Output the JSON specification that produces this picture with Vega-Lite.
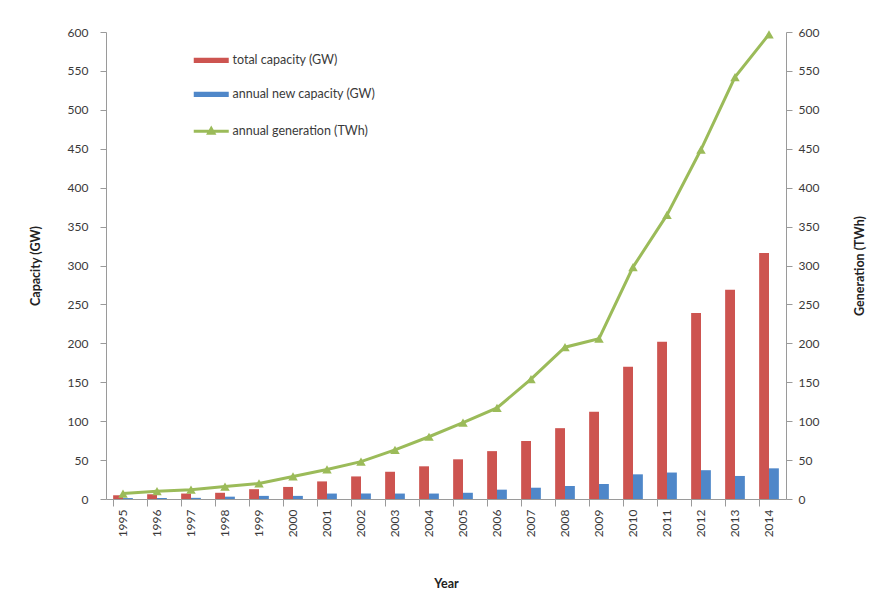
{
  "$schema": "https://vega.github.io/schema/vega-lite/v6.json",
  "width": 680,
  "height": 467,
  "autosize": "none",
  "padding": {"left": 106, "top": 32, "right": 87, "bottom": 100},
  "background": "white",
  "config": {
    "font": "Lato",
    "view": {"stroke": null},
    "axis": {"labelFont": "Lato", "titleFont": "Lato", "labelColor": "#3a3a3a", "titleColor": "#222", "labelFontSize": 12, "titleFontSize": 12.5, "titleFontWeight": "bold", "domainColor": "#9a9a9a", "tickColor": "#9a9a9a", "grid": false}
  },
  "datasets": {
    "bars": [
      {"year": "1995", "series": "total capacity (GW)", "value": 4.8},
      {"year": "1996", "series": "total capacity (GW)", "value": 6.1},
      {"year": "1997", "series": "total capacity (GW)", "value": 7.0},
      {"year": "1998", "series": "total capacity (GW)", "value": 8.0},
      {"year": "1999", "series": "total capacity (GW)", "value": 12.6},
      {"year": "2000", "series": "total capacity (GW)", "value": 15.5},
      {"year": "2001", "series": "total capacity (GW)", "value": 22.6},
      {"year": "2002", "series": "total capacity (GW)", "value": 29},
      {"year": "2003", "series": "total capacity (GW)", "value": 35},
      {"year": "2004", "series": "total capacity (GW)", "value": 42},
      {"year": "2005", "series": "total capacity (GW)", "value": 51},
      {"year": "2006", "series": "total capacity (GW)", "value": 61.5},
      {"year": "2007", "series": "total capacity (GW)", "value": 74.5},
      {"year": "2008", "series": "total capacity (GW)", "value": 91},
      {"year": "2009", "series": "total capacity (GW)", "value": 112},
      {"year": "2010", "series": "total capacity (GW)", "value": 170},
      {"year": "2011", "series": "total capacity (GW)", "value": 202},
      {"year": "2012", "series": "total capacity (GW)", "value": 239},
      {"year": "2013", "series": "total capacity (GW)", "value": 269},
      {"year": "2014", "series": "total capacity (GW)", "value": 316},
      {"year": "1995", "series": "annual new capacity (GW)", "value": 1.2},
      {"year": "1996", "series": "annual new capacity (GW)", "value": 1.3},
      {"year": "1997", "series": "annual new capacity (GW)", "value": 1.5},
      {"year": "1998", "series": "annual new capacity (GW)", "value": 3},
      {"year": "1999", "series": "annual new capacity (GW)", "value": 4},
      {"year": "2000", "series": "annual new capacity (GW)", "value": 4},
      {"year": "2001", "series": "annual new capacity (GW)", "value": 7},
      {"year": "2002", "series": "annual new capacity (GW)", "value": 7},
      {"year": "2003", "series": "annual new capacity (GW)", "value": 7},
      {"year": "2004", "series": "annual new capacity (GW)", "value": 7},
      {"year": "2005", "series": "annual new capacity (GW)", "value": 8},
      {"year": "2006", "series": "annual new capacity (GW)", "value": 12},
      {"year": "2007", "series": "annual new capacity (GW)", "value": 14.5},
      {"year": "2008", "series": "annual new capacity (GW)", "value": 16.7},
      {"year": "2009", "series": "annual new capacity (GW)", "value": 19.3},
      {"year": "2010", "series": "annual new capacity (GW)", "value": 31.7},
      {"year": "2011", "series": "annual new capacity (GW)", "value": 34},
      {"year": "2012", "series": "annual new capacity (GW)", "value": 37},
      {"year": "2013", "series": "annual new capacity (GW)", "value": 29.6},
      {"year": "2014", "series": "annual new capacity (GW)", "value": 39.4}
    ],
    "gen": [
      {"year": "1995", "series": "annual generation (TWh)", "twh": 7},
      {"year": "1996", "series": "annual generation (TWh)", "twh": 10},
      {"year": "1997", "series": "annual generation (TWh)", "twh": 12},
      {"year": "1998", "series": "annual generation (TWh)", "twh": 16},
      {"year": "1999", "series": "annual generation (TWh)", "twh": 20},
      {"year": "2000", "series": "annual generation (TWh)", "twh": 29},
      {"year": "2001", "series": "annual generation (TWh)", "twh": 38},
      {"year": "2002", "series": "annual generation (TWh)", "twh": 48},
      {"year": "2003", "series": "annual generation (TWh)", "twh": 63},
      {"year": "2004", "series": "annual generation (TWh)", "twh": 80},
      {"year": "2005", "series": "annual generation (TWh)", "twh": 98},
      {"year": "2006", "series": "annual generation (TWh)", "twh": 117},
      {"year": "2007", "series": "annual generation (TWh)", "twh": 154},
      {"year": "2008", "series": "annual generation (TWh)", "twh": 195},
      {"year": "2009", "series": "annual generation (TWh)", "twh": 206},
      {"year": "2010", "series": "annual generation (TWh)", "twh": 298},
      {"year": "2011", "series": "annual generation (TWh)", "twh": 365},
      {"year": "2012", "series": "annual generation (TWh)", "twh": 449},
      {"year": "2013", "series": "annual generation (TWh)", "twh": 542},
      {"year": "2014", "series": "annual generation (TWh)", "twh": 597}
    ]
  },
  "layer": [
    {
      "data": {"name": "bars"},
      "mark": {"type": "bar"},
      "encoding": {
        "x": {
          "field": "year", "type": "nominal",
          "scale": {"paddingInner": 0.42, "paddingOuter": 0.21},
          "axis": {"title": "Year", "labelAngle": -90, "labelAlign": "right", "labelBaseline": "middle", "bandPosition": 0, "tickSize": 7, "labelPadding": 3, "titlePadding": 41, "ticks": true}
        },
        "xOffset": {"field": "series", "type": "nominal", "sort": ["total capacity (GW)", "annual new capacity (GW)"], "scale": {"paddingInner": 0, "paddingOuter": 0}},
        "y": {
          "field": "value", "type": "quantitative",
          "scale": {"domain": [0, 600], "nice": false},
          "axis": {"title": "Capacity (GW)", "values": [0,50,100,150,200,250,300,350,400,450,500,550,600], "tickSize": 6, "labelPadding": 12, "titlePadding": 25}
        },
        "color": {
          "field": "series", "type": "nominal",
          "scale": {"domain": ["total capacity (GW)", "annual new capacity (GW)", "annual generation (TWh)"], "range": ["#cd5450", "#4f87c9", "#9bbb59"]},
          "legend": {
            "title": null, "orient": "none", "legendX": 99, "legendY": 22,
            "labelFont": "Lato", "labelFontSize": 12.5, "labelColor": "#3a3a3a",
            "rowPadding": 21, "symbolSize": 1225, "labelOffset": 15, "symbolStrokeWidth": 0,
            "encode": {
              "symbols": {"update": {
                "shape": {"signal": "datum.value === 'annual generation (TWh)' ? 'M-1,0H1M-0.15,0.12L0,-0.15L0.15,0.12Z' : 'M-1,-0.15H1V0.15H-1Z'"},
                "strokeWidth": {"signal": "datum.value === 'annual generation (TWh)' ? 3 : 0"}
              }}
            }
          }
        }
      }
    },
    {
      "data": {"name": "gen"},
      "mark": {"type": "line", "strokeWidth": 3, "point": {"shape": "triangle-up", "size": 90, "filled": true}},
      "encoding": {
        "x": {"field": "year", "type": "nominal"},
        "y": {
          "field": "twh", "type": "quantitative",
          "scale": {"domain": [0, 600], "nice": false},
          "axis": {"orient": "right", "title": "Generation (TWh)", "titleAngle": -90, "values": [0,50,100,150,200,250,300,350,400,450,500,550,600], "tickSize": 6, "labelPadding": 6, "titlePadding": 48}
        },
        "color": {"field": "series", "type": "nominal"}
      }
    }
  ],
  "resolve": {"scale": {"y": "independent"}}
}
